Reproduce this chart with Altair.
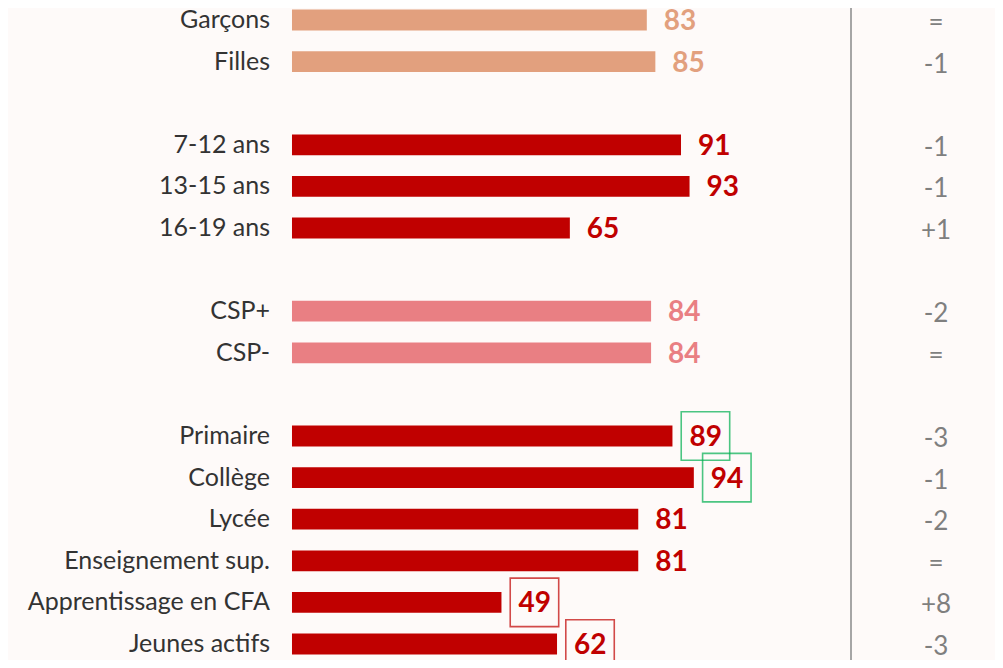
import altair as alt
import pandas as pd

categories = ["Garçons", "Filles", "7-12 ans", "13-15 ans", "16-19 ans", "CSP+", "CSP-",
              "Primaire", "Collège", "Lycée", "Enseignement sup.", "Apprentissage en CFA", "Jeunes actifs"]
groups = ["sexe", "sexe", "age", "age", "age", "csp", "csp",
          "niveau", "niveau", "niveau", "niveau", "niveau", "niveau"]
values = [83, 85, 91, 93, 65, 84, 84, 89, 94, 81, 81, 49, 62]
deltas = ["=", "-1", "-1", "-1", "+1", "-2", "=", "-3", "-1", "-2", "=", "+8", "-3"]
boxes = ["", "", "", "", "", "", "", "haut", "haut", "", "", "bas", "bas"]

group_names = ["sexe", "age", "csp", "niveau"]
group_colors = ["#E2A07E", "#C00000", "#E97F83", "#C00000"]

# row index with a blank row between groups
rows = []
r = 0
prev = groups[0]
for g in groups:
    if g != prev:
        r += 1
        prev = g
    rows.append(r)
    r += 1

df = pd.DataFrame({
    "cat": categories, "grp": groups, "val": values, "delta": deltas,
    "box": boxes, "row": rows,
})
df["y0"] = df["row"] - 0.25
df["y1"] = df["row"] + 0.25

W, H = 987, 652
xscale = alt.Scale(domain=[-66.43, 164.45], nice=False, zero=False)
yscale = alt.Scale(domain=[-0.2885, 15.385], reverse=True, nice=False, zero=False)
cscale = alt.Scale(domain=group_names, range=group_colors)

base = alt.Chart(df)

bars = base.mark_rect().encode(
    x=alt.X("x0:Q", scale=xscale, axis=None),
    x2="val:Q",
    y=alt.Y("y0:Q", scale=yscale, axis=None),
    y2="y1:Q",
    color=alt.Color("grp:N", scale=cscale, legend=None),
).transform_calculate(x0="0")

labels = base.mark_text(align="right", baseline="middle", dx=-22, dy=0,
                        font="Lato", fontSize=25, color="#333333").encode(
    x=alt.X("zero:Q", scale=xscale, axis=None),
    y=alt.Y("row:Q", scale=yscale, axis=None),
    text="cat:N",
).transform_calculate(zero="0")

vals = base.mark_text(align="left", baseline="middle", dx=17, dy=2,
                      font="Lato", fontSize=28, fontWeight="bold").encode(
    x=alt.X("val:Q", scale=xscale, axis=None),
    y=alt.Y("row:Q", scale=yscale, axis=None),
    text="val:Q",
    color=alt.Color("grp:N", scale=cscale, legend=None),
)

boxmarks = base.transform_filter("datum.box != ''").mark_point(
    shape="square", size=2350, filled=False, strokeWidth=1.6, xOffset=33, yOffset=0
).encode(
    x=alt.X("val:Q", scale=xscale, axis=None),
    y=alt.Y("row:Q", scale=yscale, axis=None),
    stroke=alt.Stroke("box:N", scale=alt.Scale(domain=["haut", "bas"], range=["#00B050", "#C00000"]), legend=None),
)

deltas_txt = base.mark_text(align="center", baseline="middle", dy=3,
                            font="Lato", fontSize=26, color="#7F7F7F").encode(
    x=alt.value(928),
    y=alt.Y("row:Q", scale=yscale, axis=None),
    text="delta:N",
)

sep = base.transform_filter("datum.row == 0").mark_rule(color="#A6A6A6", strokeWidth=2).encode(
    x=alt.value(843), y=alt.value(-10), y2=alt.value(655)
)

chart = alt.layer(bars, labels, vals, boxmarks, deltas_txt, sep).properties(
    width=W, height=H, padding=0, background="#FEFAF9",
    autosize=alt.AutoSizeParams(type="none"),
).configure_view(stroke=None)

chart.save("out.html", embed_options={"renderer": "svg", "actions": False})
